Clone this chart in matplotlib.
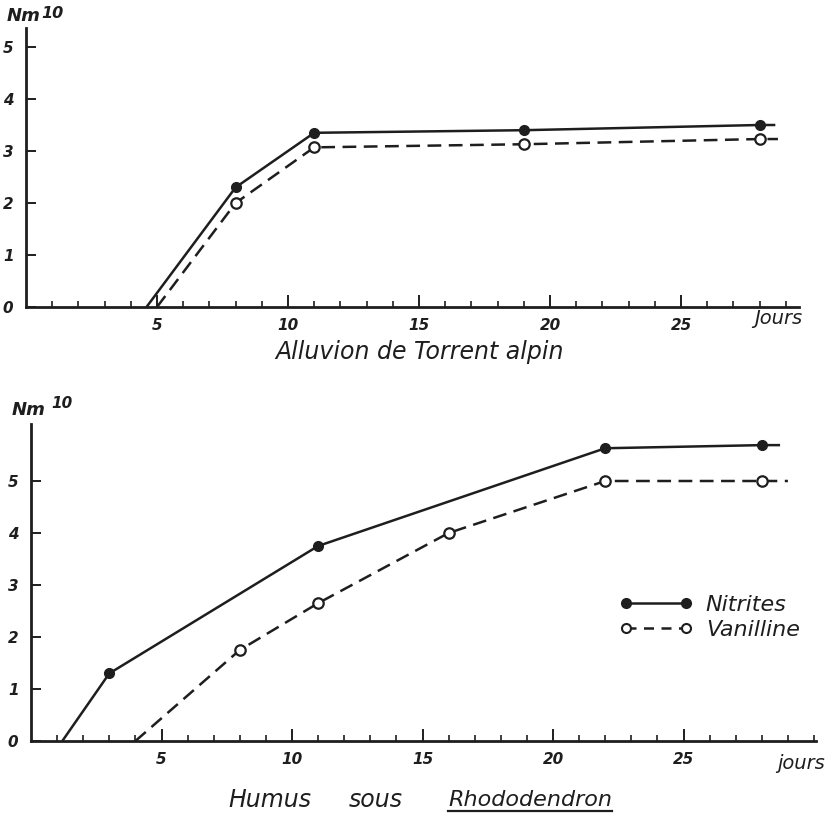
import matplotlib
matplotlib.use("Agg")
import matplotlib.pyplot as plt
from matplotlib.lines import Line2D

# ---------------- data ----------------
# Top panel: Alluvion de Torrent alpin
top_nit_days = [4.6, 8, 11, 19, 28, 28.6]
top_nit_vals = [0.0, 2.3, 3.35, 3.4, 3.5, 3.5]
top_van_days = [5.0, 8, 11, 19, 28, 28.7]
top_van_vals = [0.0, 2.0, 3.07, 3.13, 3.23, 3.23]

# Bottom panel: Humus sous Rhododendron
bot_nit_days = [1.2, 3, 11, 22, 28, 28.7]
bot_nit_vals = [0.0, 1.3, 3.75, 5.63, 5.69, 5.69]
bot_van_days = [4.0, 8, 11, 16, 22, 28, 29.0]
bot_van_vals = [0.0, 1.75, 2.65, 4.0, 5.0, 5.0, 5.0]

x_major = [5, 10, 15, 20, 25]
x_major_labels = ["5", "10", "15", "20", "25"]
top_y_ticks = [0, 1, 2, 3, 4, 5]
top_y_labels = ["0", "1", "2", "3", "4", "5"]
bot_y_ticks = [0, 1, 2, 3, 4, 5]
bot_y_labels = ["0", "1", "2", "3", "4", "5"]

series_names = ["Nitrites", "Vanilline"]
top_title = "Alluvion de Torrent alpin"
bot_title_a = "Humus"
bot_title_s = "sous"
bot_title_b = "Rhododendron"

INK = "#1e1e1e"
FONT = dict(family="DejaVu Sans", style="oblique")

W, H = 838, 815
fig = plt.figure(figsize=(W / 100, H / 100), dpi=100)
fig.patch.set_facecolor("white")


def make_axes(x0px, y0px, pxday, pxunit, xmax, ymax):
    left = x0px / W
    bottom = (H - y0px) / H
    width = xmax * pxday / W
    height = ymax * pxunit / H
    ax = fig.add_axes([left, bottom, width, height])
    ax.set_xlim(0, xmax)
    ax.set_ylim(0, ymax)
    return ax


def style_axes(ax, xtop, ytop, yticks, ylabels):
    for s in ["top", "right"]:
        ax.spines[s].set_visible(False)
    ax.spines["left"].set_bounds(0, ytop)
    ax.spines["bottom"].set_bounds(0, xtop)
    for s in ["left", "bottom"]:
        ax.spines[s].set_linewidth(2.0)
        ax.spines[s].set_color(INK)
    ax.set_xticks(x_major)
    ax.set_xticklabels(x_major_labels)
    ax.set_xticks([d for d in range(1, int(xtop) + 1) if d not in x_major], minor=True)
    ax.set_yticks(yticks)
    ax.set_yticklabels(ylabels)
    ax.tick_params(axis="x", which="major", direction="in", length=9, width=1.4,
                   color=INK, pad=8, labelsize=11, labelcolor=INK)
    ax.tick_params(axis="x", which="minor", direction="in", length=4, width=1.2, color=INK)
    ax.tick_params(axis="y", which="major", direction="in", length=7, width=1.4,
                   color=INK, pad=9, labelsize=11, labelcolor=INK)
    for lab in ax.get_xticklabels() + ax.get_yticklabels():
        lab.set_fontstyle("oblique")
        lab.set_fontweight("bold")
    ax.set_facecolor("none")


def plot_series(ax, nx, ny, vx, vy):
    ax.plot(nx, ny, color=INK, lw=1.8, marker="o", ms=7, mfc=INK, mec=INK,
            markevery=list(range(1, len(nx) - 1)), solid_capstyle="butt", clip_on=False)
    ax.plot(vx, vy, color=INK, lw=1.8, ls=(0, (5.5, 3)), marker="o", ms=7.5,
            mfc="white", mec=INK, mew=1.6,
            markevery=list(range(1, len(vx) - 1)), clip_on=False)


# ---------------- top panel ----------------
ax1 = make_axes(26, 307, 26.2, 52.0, 30.0, 5.6)
style_axes(ax1, 29.5, 5.37, top_y_ticks, top_y_labels)
plot_series(ax1, top_nit_days, top_nit_vals, top_van_days, top_van_vals)
ax1.text(28.7, -0.22, "Jours", ha="center", va="center", fontsize=14, color=INK,
         clip_on=False, **FONT)
fig.text(7 / W, 1 - 16 / H, "Nm", fontsize=13, color=INK, va="center", ha="left",
         fontweight="bold", **FONT)
fig.text(41 / W, 1 - 13 / H, "10", fontsize=11.5, color=INK, va="center", ha="left",
         fontweight="bold", **FONT)
fig.text(420 / W, 1 - 352 / H, top_title, fontsize=17, color=INK, ha="center",
         va="center", **FONT)

# ---------------- bottom panel ----------------
ax2 = make_axes(31, 741, 26.1, 52.0, 30.5, 6.3)
style_axes(ax2, 30.07, 6.1, bot_y_ticks, bot_y_labels)
plot_series(ax2, bot_nit_days, bot_nit_vals, bot_van_days, bot_van_vals)
ax2.text(29.5, -0.43, "jours", ha="center", va="center", fontsize=14, color=INK,
         clip_on=False, **FONT)
fig.text(12 / W, 1 - 410 / H, "Nm", fontsize=13, color=INK, va="center", ha="left",
         fontweight="bold", **FONT)
fig.text(51 / W, 1 - 404 / H, "10", fontsize=11, color=INK, va="center", ha="left",
         fontweight="bold", **FONT)

fig.text(228 / W, 1 - 800 / H, bot_title_a, fontsize=17, color=INK, ha="left",
         va="center", **FONT)
fig.text(376 / W, 1 - 800 / H, bot_title_s, fontsize=17, color=INK, ha="center",
         va="center", **FONT)
t_b = fig.text(612 / W, 1 - 800 / H, bot_title_b, fontsize=16, color=INK, ha="right",
               va="center", **FONT)
fig.canvas.draw()
bb = t_b.get_window_extent()
fig.add_artist(Line2D([bb.x0 / W, bb.x1 / W], [(bb.y0 - 1) / H, (bb.y0 - 1) / H],
                      color=INK, lw=1.6, transform=fig.transFigure))

# legend
handles = [
    Line2D([], [], color=INK, lw=1.8, marker="o", ms=7, mfc=INK, mec=INK),
    Line2D([], [], color=INK, lw=1.8, ls=(0, (4, 3)), marker="o", ms=6.5,
           mfc="white", mec=INK, mew=1.5),
]
leg = ax2.legend(handles, series_names, numpoints=2, frameon=False,
                 loc="upper left", bbox_to_anchor=(608 / W, 1 - 584 / H),
                 bbox_transform=fig.transFigure, handlelength=3.3,
                 handletextpad=0.6, labelspacing=0.2, borderpad=0,
                 prop=dict(family="DejaVu Sans", style="oblique", size=16))
for t in leg.get_texts():
    t.set_color(INK)

fig.savefig("out.png", dpi=100, facecolor="white")
